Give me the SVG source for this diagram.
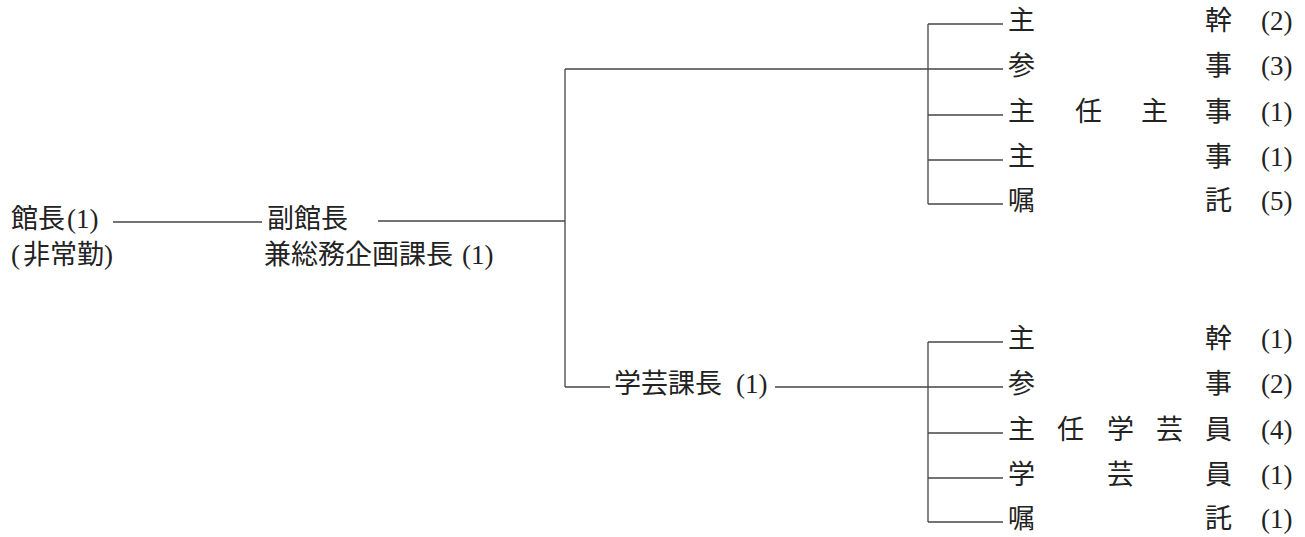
<svg xmlns="http://www.w3.org/2000/svg" width="1305" height="537" viewBox="0 0 1305 537">
<style>
text{font-family:"Liberation Serif","Noto Sans CJK JP",serif;font-size:27px;fill:#222;dominant-baseline:central}
.c line{stroke:#444;stroke-width:1.3;fill:none}
</style>
<rect width="1305" height="537" fill="#fff"/>
<g class="c" id="connectors">
<line x1="113" y1="222" x2="262" y2="222"/>
<line x1="378" y1="221" x2="565" y2="221"/>
<line x1="565" y1="69" x2="565" y2="387"/>
<line x1="565" y1="69" x2="928" y2="69"/>
<line x1="565" y1="387" x2="610" y2="387"/>
<line x1="775" y1="387" x2="928" y2="387"/>
<line x1="928" y1="24" x2="928" y2="204"/>
<line x1="928" y1="24" x2="1003" y2="24"/>
<line x1="928" y1="69" x2="1003" y2="69"/>
<line x1="928" y1="115" x2="1003" y2="115"/>
<line x1="928" y1="160" x2="1003" y2="160"/>
<line x1="928" y1="204" x2="1003" y2="204"/>
<line x1="928" y1="342" x2="928" y2="522"/>
<line x1="928" y1="342" x2="1003" y2="342"/>
<line x1="928" y1="387" x2="1003" y2="387"/>
<line x1="928" y1="433" x2="1003" y2="433"/>
<line x1="928" y1="478" x2="1003" y2="478"/>
<line x1="928" y1="522" x2="1003" y2="522"/>
</g>
<g id="kancho">
<text x="11" y="219">館長<tspan x="67">(1)</tspan></text>
<text x="11" y="255">(<tspan x="23">非常勤</tspan>)</text>
</g>
<g id="fukukancho">
<text x="267" y="219">副館長</text>
<text x="264" y="255">兼総務企画課長<tspan x="462">(1)</tspan></text>
</g>
<g id="gakugeikacho">
<text x="614" y="384">学芸課長<tspan x="736">(1)</tspan></text>
</g>
<g id="soumu-staff">
<text x="1008 1205" y="21">主幹</text><text x="1261" y="21">(2)</text>
<text x="1008 1205" y="66">参事</text><text x="1261" y="66">(3)</text>
<text x="1008 1075 1141 1205" y="112">主任主事</text><text x="1261" y="112">(1)</text>
<text x="1008 1205" y="157">主事</text><text x="1261" y="157">(1)</text>
<text x="1008 1205" y="201">嘱託</text><text x="1261" y="201">(5)</text>
</g>
<g id="gakugei-staff">
<text x="1008 1205" y="339">主幹</text><text x="1261" y="339">(1)</text>
<text x="1008 1205" y="384">参事</text><text x="1261" y="384">(2)</text>
<text x="1008 1057 1107 1156 1205" y="430">主任学芸員</text><text x="1261" y="430">(4)</text>
<text x="1008 1107 1205" y="475">学芸員</text><text x="1261" y="475">(1)</text>
<text x="1008 1205" y="519">嘱託</text><text x="1261" y="519">(1)</text>
</g>
</svg>
